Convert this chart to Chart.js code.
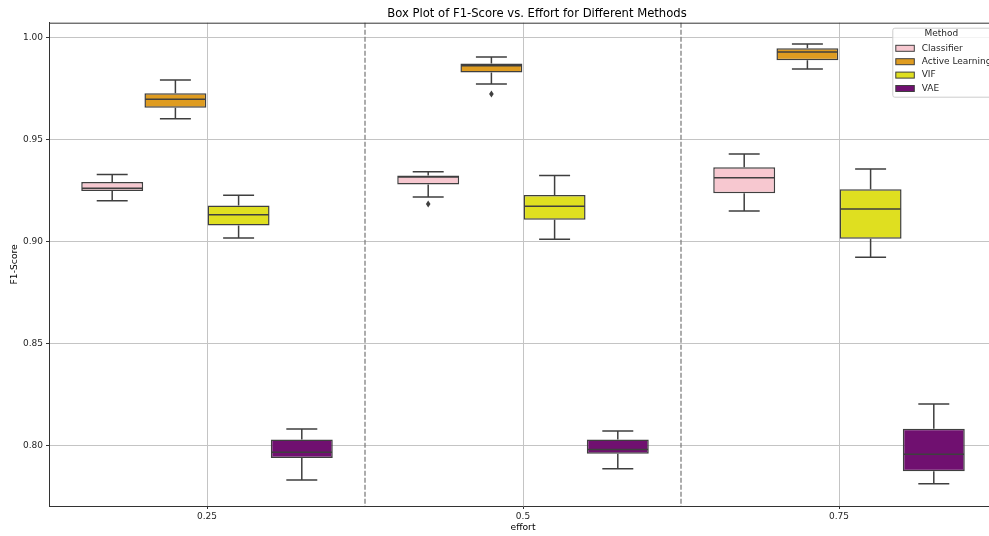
<!DOCTYPE html>
<html>
<head>
<meta charset="utf-8">
<script src="https://cdn.jsdelivr.net/npm/chart.js@4"></script>
<style>
  html, body { margin: 0; padding: 0; background: #fff; overflow: hidden; }
  #wrap { width: 1074px; height: 536px; }
</style>
</head>
<body>
<div id="wrap"><canvas id="boxChart" width="1074" height="536"></canvas></div>
<script>
// efforts on the x axis
const efforts = ['0.25', '0.5', '0.75'];
const methods = ['Classifier', 'Active Learning', 'VIF', 'VAE'];
const methodColors = ['#f7c8d0', '#df9c20', '#dfdf20', '#701070'];
const chartTitle = 'Box Plot of F1-Score vs. Effort for Different Methods';

// per effort: [whisker low, q1, median, q3, whisker high]
const classifierStats = [
  [0.9199, 0.9247, 0.9260, 0.9291, 0.9327],
  [0.9217, 0.9278, 0.9315, 0.9322, 0.9341],
  [0.9149, 0.9236, 0.9311, 0.9363, 0.9428]
];
const activeLearningStats = [
  [0.9601, 0.9655, 0.9696, 0.9726, 0.9791],
  [0.9771, 0.9828, 0.9861, 0.9871, 0.9903],
  [0.9845, 0.9887, 0.9928, 0.9946, 0.9967]
];
const vifStats = [
  [0.9016, 0.9078, 0.9130, 0.9175, 0.9226],
  [0.9010, 0.9106, 0.9172, 0.9227, 0.9322],
  [0.8922, 0.9013, 0.9158, 0.9255, 0.9354]
];
const vaeStats = [
  [0.7830, 0.7938, 0.7966, 0.8028, 0.8080],
  [0.7885, 0.7959, 0.7980, 0.8029, 0.8070],
  [0.7812, 0.7873, 0.7956, 0.8081, 0.8203]
];

// fliers per effort
const classifierOutliers = [[], [0.9183], []];
const activeLearningOutliers = [[], [0.9722], []];
const vifOutliers = [[], [], []];
const vaeOutliers = [[], [], []];

const yTicks = [0.80, 0.85, 0.90, 0.95, 1.00];

const allStats = [classifierStats, activeLearningStats, vifStats, vaeStats];
const allOutliers = [classifierOutliers, activeLearningOutliers, vifOutliers, vaeOutliers];

const EDGE = '#3f3f3f';
const FONT = 'DejaVu Sans';

const datasets = methods.map((m, k) => ({
  label: m,
  data: allStats[k].map(s => [s[1], s[3]]),
  stats: allStats[k],
  outliers: allOutliers[k],
  backgroundColor: methodColors[k],
  borderColor: EDGE,
  borderWidth: 1.5,
  borderSkipped: false,
  categoryPercentage: 0.8,
  barPercentage: 0.98
}));

// whiskers, caps, medians and fliers on top of the floating bars
const boxWhiskers = {
  id: 'boxWhiskers',
  afterDatasetsDraw(chart) {
    const ctx = chart.ctx;
    const y = chart.scales.y;
    const x = chart.scales.x;
    const area = chart.chartArea;
    ctx.save();
    chart.data.datasets.forEach((ds, di) => {
      const meta = chart.getDatasetMeta(di);
      meta.data.forEach((bar, i) => {
        const { x: cx, width } = bar.getProps(['x', 'width'], true);
        const [lo, q1, med, q3, hi] = ds.stats[i];
        const half = width / 2, cap = width / 4;
        ctx.strokeStyle = EDGE;
        ctx.lineWidth = 1.5;
        ctx.beginPath();
        // whiskers
        ctx.moveTo(cx, y.getPixelForValue(q3));
        ctx.lineTo(cx, y.getPixelForValue(hi));
        ctx.moveTo(cx, y.getPixelForValue(q1));
        ctx.lineTo(cx, y.getPixelForValue(lo));
        // caps
        ctx.moveTo(cx - cap, y.getPixelForValue(hi));
        ctx.lineTo(cx + cap, y.getPixelForValue(hi));
        ctx.moveTo(cx - cap, y.getPixelForValue(lo));
        ctx.lineTo(cx + cap, y.getPixelForValue(lo));
        // median
        ctx.moveTo(cx - half + 0.75, y.getPixelForValue(med));
        ctx.lineTo(cx + half - 0.75, y.getPixelForValue(med));
        ctx.stroke();
        // fliers as thin diamonds
        ctx.fillStyle = EDGE;
        ds.outliers[i].forEach(v => {
          const py = y.getPixelForValue(v);
          ctx.beginPath();
          ctx.moveTo(cx, py - 3.5);
          ctx.lineTo(cx + 2.3, py);
          ctx.lineTo(cx, py + 3.5);
          ctx.lineTo(cx - 2.3, py);
          ctx.closePath();
          ctx.fill();
        });
      });
    });
    // dashed separators between effort groups
    ctx.strokeStyle = '#808080';
    ctx.lineWidth = 1.3;
    ctx.setLineDash([5, 2]);
    for (let i = 0; i < efforts.length - 1; i++) {
      const px = (x.getPixelForValue(i) + x.getPixelForValue(i + 1)) / 2;
      ctx.beginPath();
      ctx.moveTo(px, area.top);
      ctx.lineTo(px, area.bottom);
      ctx.stroke();
    }
    ctx.restore();
  },
  afterDraw(chart) {
    const ctx = chart.ctx;
    const a = chart.chartArea;
    ctx.save();
    // figure title, centred on the whole canvas
    ctx.fillStyle = '#000';
    ctx.font = '11.6px "' + FONT + '"';
    ctx.textAlign = 'center';
    ctx.textBaseline = 'middle';
    ctx.fillText(chartTitle, chart.width / 2, 14);

    // frame top and right
    ctx.strokeStyle = '#333';
    ctx.lineWidth = 1;
    ctx.beginPath();
    ctx.moveTo(a.left, a.top + 0.5);
    ctx.lineTo(a.right, a.top + 0.5);
    ctx.lineTo(a.right, a.bottom);
    ctx.stroke();

    // legend box in the upper right corner
    const left = a.right - 104.7, top = a.top + 5, w = 102, h = 69;
    ctx.fillStyle = 'rgba(255,255,255,0.8)';
    ctx.strokeStyle = '#cccccc';
    ctx.beginPath();
    ctx.roundRect(left + 0.5, top + 0.5, w, h, 2);
    ctx.fill();
    ctx.stroke();
    ctx.fillStyle = '#262626';
    ctx.font = '9px "' + FONT + '"';
    ctx.textAlign = 'center';
    ctx.fillText('Method', left + 49, top + 5.8);
    ctx.textAlign = 'left';
    chart.data.datasets.forEach((ds, k) => {
      const ry = top + 20.6 + k * 13.4;
      ctx.fillStyle = ds.backgroundColor;
      ctx.fillRect(left + 3.5, ry - 3, 18.5, 6);
      ctx.strokeStyle = EDGE;
      ctx.lineWidth = 1;
      ctx.strokeRect(left + 3.5, ry - 3, 18.5, 6);
      ctx.fillStyle = '#262626';
      ctx.fillText(ds.label, left + 29.4, ry);
    });
    ctx.restore();
  }
};

new Chart(document.getElementById('boxChart'), {
  type: 'bar',
  data: { labels: efforts, datasets: datasets },
  plugins: [boxWhiskers],
  options: {
    responsive: false,
    animation: false,
    layout: { padding: { left: 0, right: 77, top: 22.7, bottom: 0 } },
    plugins: {
      legend: { display: false },
      tooltip: { enabled: false },
      title: { display: false }
    },
    scales: {
      x: {
        type: 'category',
        offset: true,
        z: 1,
        grid: { offset: false, color: '#c4c4c4', lineWidth: 1, tickLength: 3, tickColor: '#333' },
        border: { display: true, color: '#333', width: 1 },
        ticks: { color: '#262626', padding: 2, font: { family: FONT, size: 9 } },
        title: {
          display: true, text: 'effort', color: '#000',
          font: { family: FONT, size: 9.2 },
          padding: { top: 0, bottom: 2.5 }
        },
        afterFit: s => { s.height = 30; }
      },
      y: {
        type: 'linear',
        min: 0.77025,
        max: 1.00716,
        z: 1,
        afterBuildTicks: s => { s.ticks = yTicks.map(v => ({ value: v })); },
        grid: { color: '#c4c4c4', lineWidth: 1, tickLength: 3, tickColor: '#333' },
        border: { display: true, color: '#333', width: 1 },
        ticks: {
          color: '#262626', padding: 3,
          font: { family: FONT, size: 9 },
          callback: v => Number(v).toFixed(2)
        },
        title: {
          display: true, text: 'F1-Score', color: '#000',
          font: { family: FONT, size: 9.2 },
          padding: { top: 9.5, bottom: 0 }
        },
        afterFit: s => { s.width = 49; }
      }
    }
  }
});
</script>
</body>
</html>
